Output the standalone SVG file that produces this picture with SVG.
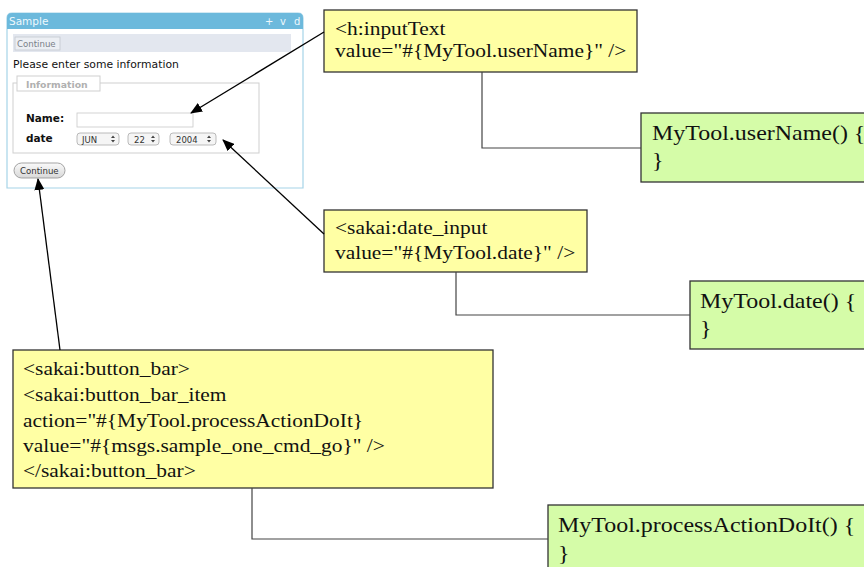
<svg xmlns="http://www.w3.org/2000/svg" width="864" height="567" viewBox="0 0 864 567">
<defs>
<style>
.code{fill:#ffffa4;stroke:#333;stroke-width:1.3}
.java{fill:#d5fca8;stroke:#333;stroke-width:1.3}
.ct{font-family:"Liberation Serif","Times New Roman",serif;font-size:19.3px;fill:#111}
.jt{font-family:"Liberation Serif","Times New Roman",serif;font-size:21.6px;fill:#111}
.conn{fill:none;stroke:#444;stroke-width:1.2}
.arr{fill:none;stroke:#000;stroke-width:1.3;marker-end:url(#ah)}
.ui{font-family:"DejaVu Sans",Verdana,sans-serif}
.sel{fill:#f5f5f5;stroke:#aaa;stroke-width:0.8}
</style>
<marker id="ah" viewBox="0 0 12 10" refX="11" refY="5" markerWidth="12" markerHeight="10" markerUnits="userSpaceOnUse" orient="auto">
<path d="M0,0 L12,5 L0,10 Z" fill="#000"/>
</marker>
<linearGradient id="btn" x1="0" y1="0" x2="0" y2="1">
<stop offset="0" stop-color="#fafafa"/>
<stop offset="1" stop-color="#d8d8d8"/>
</linearGradient>
</defs>

<g id="screenshot">
<path d="M7,188 L7,18 Q7,13 12,13 L298,13 Q303,13 303,18 L303,188 Z" fill="#fff" stroke="#a6d4e8" stroke-width="1.2"/>
<path d="M7,29 L7,18 Q7,13 12,13 L298,13 Q303,13 303,18 L303,29 Z" fill="#6cb9dc"/>
<text class="ui" x="9" y="25" font-size="10.5" fill="#eef8fc">Sample</text>
<text class="ui" x="265" y="25" font-size="10" fill="#eef8fc">+</text>
<text class="ui" x="280" y="25" font-size="10" fill="#eef8fc">v</text>
<text class="ui" x="294" y="25" font-size="10" fill="#eef8fc">d</text>
<rect x="13" y="34" width="278" height="18" fill="#e3e7ef"/>
<rect x="15" y="37" width="45" height="13" fill="#eceff4" stroke="#c4c8d0" stroke-width="0.8"/>
<text class="ui" x="17" y="47" font-size="8.6" fill="#7a7f88">Continue</text>
<text class="ui" x="13" y="68" font-size="10.8" fill="#111">Please enter some information</text>
<rect x="13" y="83" width="246" height="70" fill="none" stroke="#cfcfcf" stroke-width="1"/>
<rect x="17" y="76" width="83" height="15" fill="#fff" stroke="#cfcfcf" stroke-width="1"/>
<text class="ui" x="26" y="88" font-size="9.3" font-weight="bold" fill="#b0b0b0">Information</text>
<text class="ui" x="26" y="122" font-size="10.5" font-weight="bold" fill="#111">Name:</text>
<rect x="77" y="113" width="116" height="14" fill="#fff" stroke="#c8c8c8" stroke-width="0.8"/>
<text class="ui" x="26" y="142" font-size="10.5" font-weight="bold" fill="#111">date</text>
<rect class="sel" x="77" y="133" width="42" height="12" rx="3"/>
<text class="ui" x="82" y="143" font-size="8.5" fill="#333">JUN</text>
<path d="M111,138 l2,-2.5 l2,2.5 Z M111,140 l2,2.5 l2,-2.5 Z" fill="#444"/>
<rect class="sel" x="128" y="133" width="31" height="12" rx="3"/>
<text class="ui" x="134" y="143" font-size="8.5" fill="#333">22</text>
<path d="M151,138 l2,-2.5 l2,2.5 Z M151,140 l2,2.5 l2,-2.5 Z" fill="#444"/>
<rect class="sel" x="170" y="133" width="46" height="12" rx="3"/>
<text class="ui" x="176" y="143" font-size="8.5" fill="#333">2004</text>
<path d="M207,138 l2,-2.5 l2,2.5 Z M207,140 l2,2.5 l2,-2.5 Z" fill="#444"/>
<rect x="14" y="163" width="51" height="15" rx="7.5" fill="url(#btn)" stroke="#999" stroke-width="0.9"/>
<text class="ui" x="20" y="174" font-size="8.6" fill="#333">Continue</text>
</g>

<g id="code-inputtext">
<rect class="code" x="324" y="10" width="313" height="62"/>
<g transform="translate(335,0) scale(1.11,1)">
<text class="ct" x="0" y="35">&lt;h:inputText</text>
<text class="ct" x="0" y="57">value="#{MyTool.userName}" /&gt;</text>
</g>
</g>

<g id="code-dateinput">
<rect class="code" x="324" y="210" width="263" height="62"/>
<g transform="translate(335,0) scale(1.11,1)">
<text class="ct" x="0" y="234">&lt;sakai:date_input</text>
<text class="ct" x="0" y="259">value="#{MyTool.date}" /&gt;</text>
</g>
</g>

<g id="code-buttonbar">
<rect class="code" x="13" y="350" width="480" height="138"/>
<g transform="translate(23,0) scale(1.11,1)">
<text class="ct" x="0" y="375">&lt;sakai:button_bar&gt;</text>
<text class="ct" x="0" y="401">&lt;sakai:button_bar_item</text>
<text class="ct" x="0" y="427">action="#{MyTool.processActionDoIt}</text>
<text class="ct" x="0" y="452">value="#{msgs.sample_one_cmd_go}" /&gt;</text>
<text class="ct" x="0" y="477">&lt;/sakai:button_bar&gt;</text>
</g>
</g>

<g id="java-username">
<rect class="java" x="641" y="113" width="240" height="69"/>
<g transform="translate(652,0) scale(1.11,1)">
<text class="jt" x="0" y="140">MyTool.userName() {</text>
<text class="jt" x="0" y="167">}</text>
</g>
</g>

<g id="java-date">
<rect class="java" x="690" y="281" width="190" height="68"/>
<g transform="translate(700,0) scale(1.11,1)">
<text class="jt" x="0" y="308">MyTool.date() {</text>
<text class="jt" x="0" y="335">}</text>
</g>
</g>

<g id="java-process">
<rect class="java" x="548" y="505" width="330" height="80"/>
<g transform="translate(558,0) scale(1.11,1)">
<text class="jt" x="0" y="532">MyTool.processActionDoIt() {</text>
<text class="jt" x="0" y="560">}</text>
</g>
</g>

<g id="connectors">
<path class="conn" d="M482,72 V148 H641"/>
<path class="conn" d="M456,272 V315 H690"/>
<path class="conn" d="M252,488 V539 H548"/>
<line class="arr" x1="324" y1="32" x2="191" y2="113"/>
<line class="arr" x1="324" y1="234" x2="223" y2="140"/>
<line class="arr" x1="60" y1="350" x2="38" y2="179"/>
</g>
</svg>
